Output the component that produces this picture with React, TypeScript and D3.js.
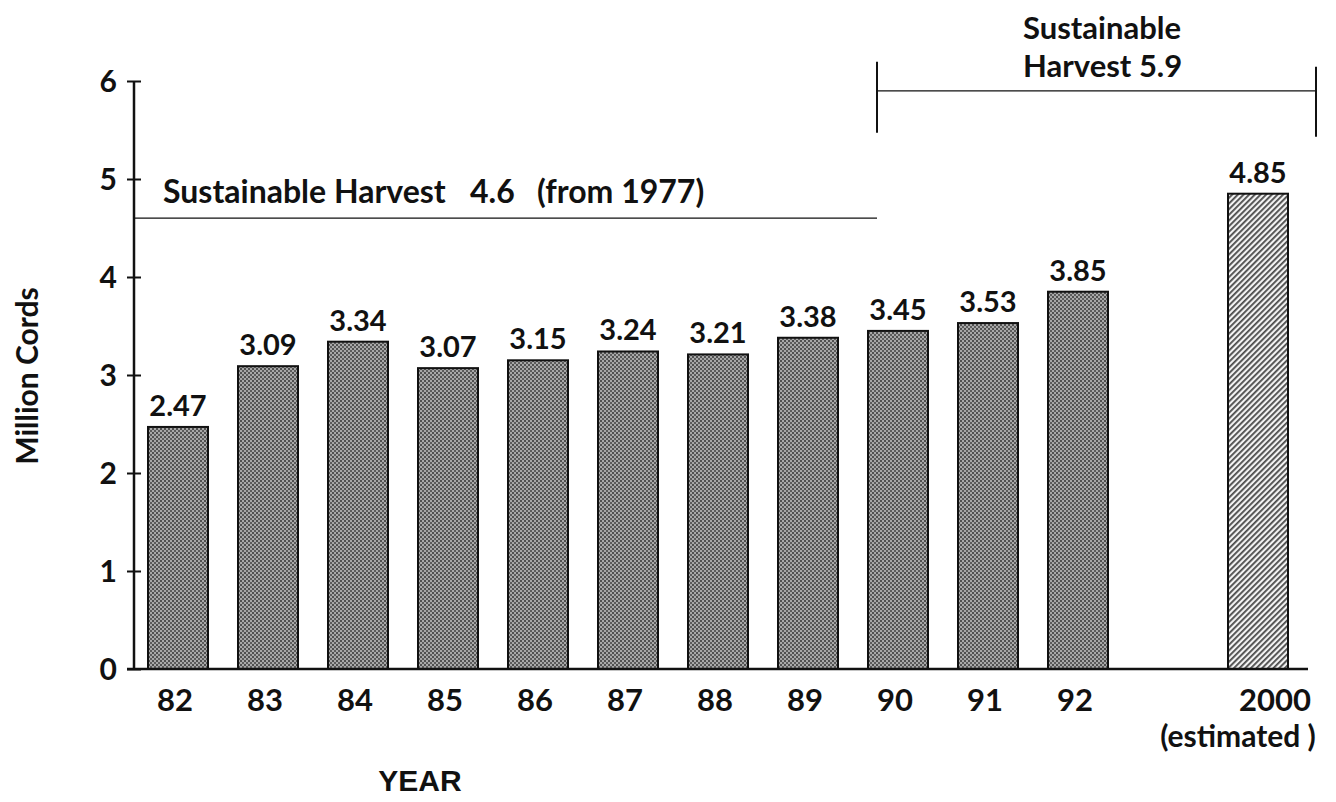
import { useEffect, useRef } from "react";
import * as d3 from "d3";

const years = ["82", "83", "84", "85", "86", "87", "88", "89", "90", "91", "92", "", "2000"];
const values = [2.47, 3.09, 3.34, 3.07, 3.15, 3.24, 3.21, 3.38, 3.45, 3.53, 3.85, null, 4.85];
const estimatedYear = "2000";
const yTicks = [0, 1, 2, 3, 4, 5, 6];
const oldHarvest = 4.6;
const oldHarvestParts = ["Sustainable Harvest", "4.6", "(from 1977)"];
const newHarvest = 5.9;
const newHarvestLabel = ["Sustainable", "Harvest 5.9"];

const App = () => {
  const svgRef = useRef(null);

  useEffect(() => {
    const svg = d3.select(svgRef.current);
    svg.selectAll("*").remove();
    const width = 1336;
    const height = 802;
    const font = "Lato, 'Noto Sans', sans-serif";

    const x = d3
      .scaleBand()
      .domain(years.map((d, i) => d || `gap${i}`))
      .range([133, 1303])
      .paddingInner(1 / 3)
      .paddingOuter(1 / 6);
    const y = d3.scaleLinear().domain([0, 6]).range([669, 81]);

    const defs = svg.append("defs");
    // stippled grey fill of the measured years
    const dots = defs
      .append("pattern")
      .attr("id", "dots")
      .attr("width", 4)
      .attr("height", 4)
      .attr("patternUnits", "userSpaceOnUse");
    dots.append("rect").attr("width", 4).attr("height", 4).attr("fill", "#a8a8a8");
    dots.append("rect").attr("width", 2).attr("height", 2).attr("fill", "#505050");
    dots.append("rect").attr("x", 2).attr("y", 2).attr("width", 2).attr("height", 2).attr("fill", "#5c5c5c");

    // hatched fill of the estimate
    const hatch = defs
      .append("pattern")
      .attr("id", "hatch")
      .attr("width", 4)
      .attr("height", 4)
      .attr("patternUnits", "userSpaceOnUse")
      .attr("patternTransform", "rotate(45)");
    hatch.append("rect").attr("width", 4).attr("height", 4).attr("fill", "#f2f2f2");
    hatch.append("rect").attr("width", 1.8).attr("height", 4).attr("fill", "#4a4a4a");

    const data = years
      .map((yr, i) => ({ yr, key: yr || `gap${i}`, v: values[i] }))
      .filter((d) => d.v !== null);

    // bars
    svg
      .selectAll(".bar")
      .data(data)
      .enter()
      .append("rect")
      .attr("class", "bar")
      .attr("x", (d) => x(d.key)!)
      .attr("y", (d) => y(d.v as number))
      .attr("width", x.bandwidth())
      .attr("height", (d) => y(0) - y(d.v as number))
      .attr("fill", (d) => (d.yr === estimatedYear ? "url(#hatch)" : "url(#dots)"))
      .attr("stroke", "#111")
      .attr("stroke-width", 2);

    // value labels
    svg
      .selectAll(".val")
      .data(data)
      .enter()
      .append("text")
      .attr("x", (d) => x(d.key)! + x.bandwidth() / 2)
      .attr("y", (d) => y(d.v as number) - 11)
      .attr("text-anchor", "middle")
      .attr("font-family", font)
      .attr("font-weight", 700)
      .attr("font-size", 29)
      .attr("fill", "#111")
      .text((d) => (d.v as number).toFixed(2));

    // y axis
    const yAxis = d3.axisLeft(y).tickValues(yTicks).tickSize(7).tickPadding(10).tickFormat(d3.format("d"));
    const gy = svg.append("g").attr("transform", "translate(134,0)").call(yAxis as any);
    gy.select(".domain").remove();
    gy.selectAll(".tick line").attr("x2", 7).attr("x1", -7).attr("stroke", "#111").attr("stroke-width", 2);
    gy.selectAll(".tick text")
      .attr("font-family", font)
      .attr("font-weight", 700)
      .attr("font-size", 30)
      .attr("dy", "0.36em")
      .attr("fill", "#111");
    gy.append("line").attr("y1", y(6)).attr("y2", y(0)).attr("stroke", "#111").attr("stroke-width", 2.5);

    // x axis
    svg
      .append("line")
      .attr("x1", 127)
      .attr("x2", 1308)
      .attr("y1", y(0))
      .attr("y2", y(0))
      .attr("stroke", "#111")
      .attr("stroke-width", 2.5);
    svg
      .selectAll(".xlab")
      .data(data)
      .enter()
      .append("text")
      .attr("x", (d) => x(d.key)! + x.bandwidth() / 2 + (d.yr === estimatedYear ? 17 : -3))
      .attr("y", 711)
      .attr("text-anchor", "middle")
      .attr("font-family", font)
      .attr("font-weight", 700)
      .attr("font-size", 31)
      .attr("fill", "#111")
      .text((d) => d.yr);
    svg
      .append("text")
      .attr("x", x(estimatedYear)! + x.bandwidth() / 2 - 20)
      .attr("y", 747)
      .attr("text-anchor", "middle")
      .attr("font-family", font)
      .attr("font-weight", 700)
      .attr("font-size", 30)
      .attr("fill", "#111")
      .text("(estimated )");

    // axis titles
    svg
      .append("text")
      .attr("x", 420)
      .attr("y", 780)
      .attr("dy", "0.35em")
      .attr("text-anchor", "middle")
      .attr("font-family", "'Liberation Sans', Arial, sans-serif")
      .attr("font-weight", 700)
      .attr("font-size", 30)
      .attr("fill", "#111")
      .text("YEAR");
    svg
      .append("text")
      .attr("transform", "translate(38,376) rotate(-90)")
      .attr("text-anchor", "middle")
      .attr("font-family", font)
      .attr("font-weight", 700)
      .attr("font-size", 30)
      .attr("fill", "#111")
      .text("Million Cords");

    // sustainable harvest 4.6 line
    const bracketX = x("90")! + 9;
    svg
      .append("line")
      .attr("x1", 134)
      .attr("x2", bracketX)
      .attr("y1", y(oldHarvest))
      .attr("y2", y(oldHarvest))
      .attr("stroke", "#111")
      .attr("stroke-width", 1.3);
    const partX = [163, 470, 537];
    svg
      .selectAll(".oh")
      .data(oldHarvestParts)
      .enter()
      .append("text")
      .attr("x", (d, i) => partX[i])
      .attr("y", y(oldHarvest) - 15)
      .attr("font-family", font)
      .attr("font-weight", 700)
      .attr("font-size", 32)
      .attr("fill", "#111")
      .text((d) => d);

    // sustainable harvest 5.9 bracket
    const rightX = 1316;
    const by = y(newHarvest);
    svg
      .append("line")
      .attr("x1", bracketX)
      .attr("x2", rightX)
      .attr("y1", by)
      .attr("y2", by)
      .attr("stroke", "#111")
      .attr("stroke-width", 1.3);
    svg.append("line").attr("x1", bracketX).attr("x2", bracketX).attr("y1", by - 29).attr("y2", by + 42).attr("stroke", "#111").attr("stroke-width", 2);
    svg.append("line").attr("x1", rightX).attr("x2", rightX).attr("y1", by - 24).attr("y2", by + 46).attr("stroke", "#111").attr("stroke-width", 2);
    svg
      .selectAll(".nh")
      .data(newHarvestLabel)
      .enter()
      .append("text")
      .attr("x", 1023)
      .attr("y", (d, i) => 39 + i * 38)
      .attr("font-family", font)
      .attr("font-weight", 700)
      .attr("font-size", 31)
      .attr("fill", "#111")
      .text((d) => d);

    svg.attr("width", width).attr("height", height);
  }, []);

  return (
    <svg
      ref={svgRef}
      style={{ position: "absolute", left: 0, top: 0, background: "#fff" }}
    ></svg>
  );
};

export default App;
